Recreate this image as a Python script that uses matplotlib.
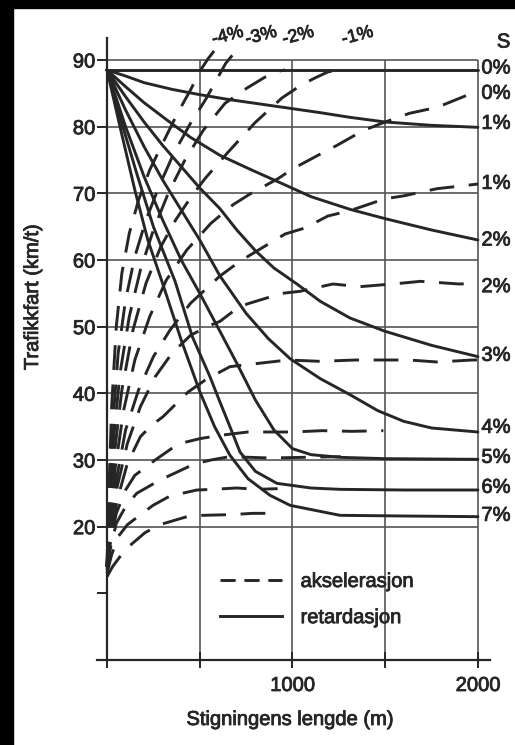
import matplotlib
matplotlib.use('Agg')
import matplotlib.pyplot as plt
import matplotlib.patheffects as pe
from matplotlib.lines import Line2D
from matplotlib.patches import Rectangle

plt.rcParams['font.family'] = ['Liberation Sans', 'DejaVu Sans']

# ---------------- data ----------------
y_ticks = [10, 20, 30, 40, 50, 60, 70, 80, 90]
y_ticklabels = ['', '20', '30', '40', '50', '60', '70', '80', '90']
x_ticks = [0, 500, 1000, 1500, 2000]
x_ticklabels = ['', '', '1000', '', '2000']

# retardasjon (solid) curves: distance (m) -> speed (km/t)
r0_x = [0, 1000, 2000]
r0_v = [88.5, 88.5, 88.5]
r1_x = [0, 100, 200, 350, 500, 650, 800, 1000, 1150, 1310, 1500, 1750, 2000]
r1_v = [88.5, 87.6, 86.6, 85.6, 84.8, 84.1, 83.5, 82.7, 82.1, 81.4, 80.7, 80.2, 79.9]
r2_x = [0, 100, 200, 323, 450, 609, 780, 933, 1100, 1310, 1500, 1750, 2000]
r2_v = [88.5, 86, 83.6, 81, 78.4, 75.7, 73.5, 71.6, 69.5, 67.6, 66.2, 64.5, 63]
r3_x = [0, 100, 200, 300, 400, 500, 609, 700, 800, 900, 1024, 1150, 1310, 1500, 1750, 2000]
r3_v = [88.5, 84.5, 80.7, 77.2, 74, 70.8, 67.7, 64.5, 61.4, 58.8, 56.4, 53.8, 51.3, 49.3, 47.2, 45.5]
r4_x = [0, 100, 200, 300, 400, 500, 609, 750, 870, 987, 1150, 1310, 1460, 1600, 1750, 2000]
r4_v = [88.5, 82.5, 77, 72, 67.5, 63, 57.6, 52, 48.2, 45.2, 42.2, 39.8, 37.4, 35.8, 34.8, 34.2]
r5_x = [0, 100, 200, 300, 400, 500, 609, 700, 800, 900, 1000, 1100, 1256, 1500, 2000]
r5_v = [88.5, 80, 72.5, 66, 60, 55, 49.3, 44.5, 39, 34.5, 31.7, 30.8, 30.4, 30.2, 30.1]
r6_x = [0, 80, 160, 250, 367, 460, 555, 609, 670, 717, 800, 916, 1100, 1256, 1600, 2000]
r6_v = [88.5, 80.5, 73, 65, 56.8, 48.5, 42.5, 38.7, 34.5, 31.2, 28.3, 26.5, 25.8, 25.6, 25.5, 25.5]
r7_x = [0, 70, 150, 220, 296, 400, 501, 580, 663, 760, 879, 987, 1256, 1600, 2000]
r7_v = [88.5, 80, 70.5, 63, 56.8, 48, 40.2, 35, 30.7, 27.2, 24.7, 23.2, 21.7, 21.6, 21.5]

# akselerasjon (dashed) curves
am4_x = [0, 10, 25, 50, 80, 120, 170, 230, 300, 380, 450, 505, 545, 590]
am4_v = [14, 25, 38, 50, 58, 64, 69, 73.5, 77.5, 82, 85.5, 88.5, 90.2, 91.8]
am3_x = [0, 12, 30, 60, 100, 150, 210, 280, 360, 450, 530, 590, 640, 690]
am3_v = [14, 24, 35, 46, 54, 60.5, 66, 71, 76, 80.5, 84, 87, 89.5, 91.2]
am2_x = [0, 15, 35, 70, 120, 180, 250, 330, 420, 520, 636, 755, 850, 920, 960]
am2_v = [14, 23, 33, 43, 51.5, 58.5, 64.5, 70, 75, 79.5, 83.5, 85.8, 87.4, 88.3, 88.5]
am1_x = [0, 15, 40, 80, 140, 210, 290, 370, 447, 528, 647, 798, 943, 1050, 1121, 1190, 1240]
am1_v = [14, 22, 31, 40.5, 49.5, 56.5, 62, 66, 69.2, 72.2, 76, 80.6, 84.3, 86.3, 87.3, 88.2, 88.5]
a0_x = [0, 18, 45, 90, 150, 230, 320, 430, 560, 680, 771, 922, 1003, 1164, 1240, 1380, 1490, 1630, 1780, 1940, 2000]
a0_v = [14, 21, 29, 37.5, 45, 51.5, 57, 61.5, 65.5, 68.3, 69.9, 72.2, 73.7, 76.1, 77.2, 79.4, 80.6, 82, 82.9, 84.7, 85]
a1_x = [0, 18, 50, 100, 170, 250, 340, 450, 609, 717, 787, 960, 1067, 1191, 1310, 1500, 1596, 1780, 1940, 2000]
a1_v = [14, 20, 27, 34.5, 40.5, 45.5, 49.5, 53.5, 57.6, 59.8, 61, 63.9, 64.8, 66.6, 67.4, 69.2, 69.6, 70.7, 71.2, 71.4]
a2_x = [0, 20, 55, 110, 180, 260, 350, 450, 540, 609, 680, 755, 943, 1040, 1218, 1364, 1580, 1690, 1900, 2000]
a2_v = [14, 19.5, 26, 32.5, 38, 42.5, 46, 48.7, 50, 50.8, 52.3, 53.4, 55, 55.3, 56.4, 56, 56.5, 56.8, 56.4, 56.5]
a3_x = [0, 20, 55, 110, 180, 240, 302, 437, 530, 609, 663, 755, 975, 1150, 1340, 1450, 1630, 1780, 1970, 2000]
a3_v = [14, 18.5, 24, 29.5, 33.5, 35.2, 36.5, 40.2, 42, 43.2, 44, 44.3, 45, 44.8, 45, 45, 45, 44.7, 45, 45]
a4_x = [0, 20, 50, 100, 150, 260, 383, 500, 609, 760, 1000, 1160, 1320, 1490]
a4_v = [14, 18, 22, 25.5, 27.7, 30, 32.4, 33.2, 33.7, 34.2, 34.2, 34.4, 34.3, 34.4]
a5_x = [0, 20, 50, 100, 160, 286, 394, 470, 560, 660, 880, 1060, 1260]
a5_v = [13.5, 17, 20.5, 23, 25, 27, 28.4, 29.4, 30, 30.5, 30.3, 30.4, 30.5]
a6_x = [0, 25, 60, 110, 167, 248, 340, 485, 571, 700, 810, 920]
a6_v = [13, 15.8, 18.5, 20.3, 21.5, 23.2, 24.6, 25.5, 25.6, 25.8, 25.6, 25.7]
a7_x = [0, 30, 70, 108, 205, 285, 431, 517, 663, 787, 920]
a7_v = [12.5, 14, 15.5, 16.8, 19.1, 20.3, 21.5, 21.7, 21.8, 22, 22]

solid_curves = [(r0_x, r0_v), (r1_x, r1_v), (r2_x, r2_v), (r3_x, r3_v),
                (r4_x, r4_v), (r5_x, r5_v), (r6_x, r6_v), (r7_x, r7_v)]
dashed_curves = [(am4_x, am4_v), (am3_x, am3_v), (am2_x, am2_v), (am1_x, am1_v),
                 (a0_x, a0_v), (a1_x, a1_v), (a2_x, a2_v), (a3_x, a3_v),
                 (a4_x, a4_v), (a5_x, a5_v), (a6_x, a6_v), (a7_x, a7_v)]

right_labels = ['0%', '0%', '1%', '1%', '2%', '2%', '3%', '4%', '5%', '6%', '7%']
right_label_v = [88.8, 85.0, 80.5, 71.5, 63.0, 56.0, 45.7, 34.9, 30.4, 25.9, 21.7]
top_labels = ['-4%', '-3%', '-2%', '-1%']
top_label_x = [650, 830, 1030, 1350]

# ---------------- drawing ----------------
LC = '#262626'
GC = '#555555'
FS = 14.5
LW = 2.1
BOLDEN = [pe.withStroke(linewidth=0.6, foreground=LC)]

fig = plt.figure(figsize=(5.15, 7.45), dpi=100)
fig.patch.set_facecolor('white')
ax = fig.add_axes([97 / 515, 85 / 745, 393 / 515, 622 / 745])
ax.set_xlim(-54, 2065)
ax.set_ylim(0, 93.3)

for s in ['top', 'right']:
    ax.spines[s].set_visible(False)
ax.spines['left'].set_position(('data', 0))
ax.spines['left'].set_bounds(0, 93.3)
ax.spines['left'].set_color(LC)
ax.spines['left'].set_linewidth(1.6)
ax.spines['bottom'].set_color(LC)
ax.spines['bottom'].set_linewidth(1.6)

ax.set_yticks(y_ticks)
ax.set_yticklabels(y_ticklabels)
ax.set_xticks(x_ticks)
ax.set_xticklabels(x_ticklabels)
ax.tick_params(axis='y', direction='out', length=7, width=1.4, pad=1.5,
               labelsize=FS, colors=LC)
ax.tick_params(axis='x', direction='inout', length=11, width=1.4, pad=6,
               labelsize=FS, colors=LC)

# grid box
ax.hlines(y_ticks[1:], x_ticks[0], x_ticks[-1], color=GC, lw=1.2, zorder=1)
ax.vlines(x_ticks[1:], 0, y_ticks[-1], color=GC, lw=1.2, zorder=1)

for xs, vs in solid_curves:
    ax.plot(xs, vs, color=LC, lw=LW, solid_capstyle='round',
            solid_joinstyle='round', zorder=3)
for xs, vs in dashed_curves:
    ax.plot(xs, vs, color=LC, lw=LW, linestyle=(0, (8.5, 5)),
            dash_capstyle='butt', zorder=3, clip_on=False)

for lab, v in zip(right_labels, right_label_v):
    ax.annotate(lab, (x_ticks[-1], v), xytext=(2.5, 0), textcoords='offset points',
                ha='left', va='center', fontsize=FS, color=LC, annotation_clip=False,
                path_effects=BOLDEN)
ax.text(2138, 92.7, 'S', ha='center', va='center', fontsize=FS, color=LC,
        path_effects=BOLDEN)
for lab, xv in zip(top_labels, top_label_x):
    ax.text(xv, 93.6, lab, ha='center', va='center', fontsize=FS - 1.5,
            color=LC, rotation=15, path_effects=BOLDEN)

handles = [Line2D([], [], color=LC, lw=LW, linestyle=(0, (5.2, 3))),
           Line2D([], [], color=LC, lw=LW)]
leg = ax.legend(handles, ['akselerasjon', 'retardasjon'], loc='upper left',
                bbox_to_anchor=((220 - 97) / 393, (660 - 572) / 622),
                frameon=False, handlelength=3.1, handletextpad=0.9,
                labelspacing=0.85, borderpad=0, borderaxespad=0, fontsize=FS)
for t in leg.get_texts():
    t.set_color(LC)
    t.set_path_effects(BOLDEN)

for t in ax.get_xticklabels() + ax.get_yticklabels():
    t.set_path_effects(BOLDEN)

ax.set_xlabel('Stigningens lengde (m)', fontsize=FS, color=LC, path_effects=BOLDEN)
ax.xaxis.set_label_coords((290 - 97) / 393, (660 - 710) / 622)
ax.set_ylabel('Trafikkfart (km/t)', fontsize=FS, color=LC, path_effects=BOLDEN)
ax.yaxis.set_label_coords((42 - 97) / 393, (660 - 297) / 622)

# black scan border
fig.add_artist(Rectangle((0, 0), 13 / 515, 1, transform=fig.transFigure,
                         color='black', zorder=10))
fig.add_artist(Rectangle((0, 1 - 8 / 745), 1, 8 / 745, transform=fig.transFigure,
                         color='black', zorder=10))

fig.savefig('out.png', dpi=100)
